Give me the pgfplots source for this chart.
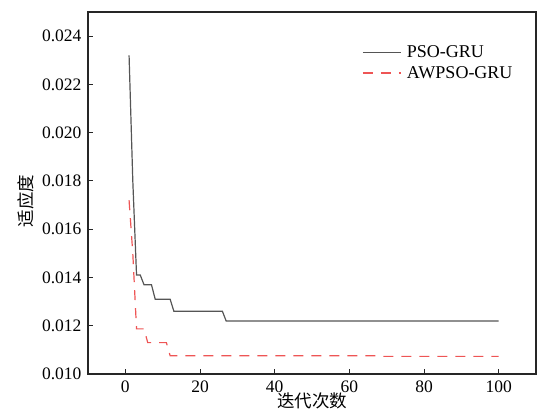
\documentclass[border=0pt]{standalone}
\usepackage{pgfplots}
\pgfplotsset{compat=1.18}
\usepackage{fontspec}
\setmainfont{Liberation Serif}
\newfontfamily\cjk{Noto Sans CJK SC}
\definecolor{psoc}{HTML}{555555}
\definecolor{awc}{HTML}{EE5555}
\begin{document}
\begin{tikzpicture}
\begin{axis}[name=ax,
  scale only axis, width=448pt, height=362pt,
  xmin=-10, xmax=110, ymin=0.010, ymax=0.025,
  xtick={0,20,...,100},
  ytick={0.010,0.012,...,0.0245},
  yticklabel style={/pgf/number format/fixed, /pgf/number format/fixed zerofill, /pgf/number format/precision=3, xshift=-3pt},
  scaled y ticks=false,
  /pgf/number format/assume math mode=true,
  tick align=inside, xtick pos=left, ytick pos=left,
  major tick length=5pt,
  axis line style={line width=1.1pt, color=black!85},
  tick style={line width=1pt, color=black!85},
  ticklabel style={font=\fontsize{17.5}{17.5}\selectfont},
  xticklabel style={yshift=-3pt},
  xlabel={\cjk 迭代次数}, ylabel={\cjk 适应度},
  label style={font=\fontsize{17.5}{17.5}\selectfont},
  xlabel style={yshift=6pt},
  ylabel style={yshift=1pt, xshift=-8pt},
  legend style={draw=none, fill=none, at={(0.605,0.918)}, anchor=north west,
    font=\fontsize{18}{18}\selectfont, row sep=3pt,
    nodes={inner xsep=5.5pt}},
  legend cell align=left,
  legend image code/.code={\draw[#1] (0pt,0pt) -- (38pt,0pt);},
]
\addplot[color=psoc, line width=1.2pt] coordinates {
(1,0.0232)(2,0.0180)(3,0.0141)(4,0.0141)(5,0.0137)(7,0.0137)(8,0.0131)(12,0.0131)(13,0.0126)(26,0.0126)(27,0.0122)(100,0.0122)};
\addlegendentry{PSO-GRU}
\addplot[color=awc, line width=1.2pt, dash pattern=on 10pt off 8pt] coordinates {
(1,0.0172)(2,0.0150)(3,0.01187)(5,0.01187)(6,0.0113)(11,0.0113)(12,0.01076)(67,0.01076)(68,0.01073)(100,0.01073)};
\addlegendentry{AWPSO-GRU}
\end{axis}
\pgfresetboundingbox
\path[use as bounding box] ([xshift=-88pt,yshift=-42pt]ax.south west) rectangle ([xshift=1pt,yshift=12pt]ax.north east);
\end{tikzpicture}
\end{document}
